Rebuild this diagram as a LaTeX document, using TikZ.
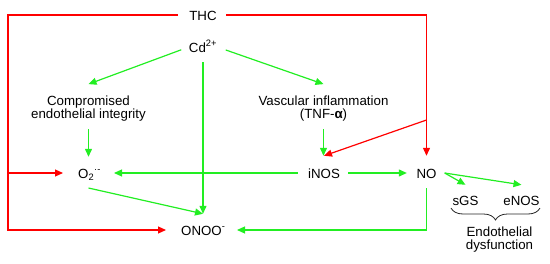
\documentclass[tikz,border=0pt]{standalone}
\usepackage{fontspec}
\setmainfont{Liberation Sans}
\usetikzlibrary{arrows.meta,calc,decorations.pathreplacing}
\definecolor{gr}{RGB}{34,238,34}
\definecolor{rd}{RGB}{255,0,0}
\tikzset{
  lbl/.style={inner sep=0pt, text height=10pt, text depth=0pt, font=\fontsize{13.3}{13}\selectfont},
  mlbl/.style={inner sep=0pt, align=center, font=\fontsize{13.3}{13}\selectfont},
  tip/.style={-{Triangle[length=8pt,width=7pt]}},
  garr/.style={draw=gr, line width=1.2pt, tip},
  rarr/.style={draw=rd, line width=1.2pt, tip},
  bracestyle/.style={decorate, decoration={brace, amplitude=12pt}, line width=0.8pt, draw=black!85}
}
\begin{document}
\begin{tikzpicture}[x=1pt,y=-1pt]
\useasboundingbox (0,0) rectangle (550,263);
% nodes
\node[lbl] (thc) at (203,15) {THC};
\node[lbl] (cd) at (203,47) {Cd\textsuperscript{2+}};
\node[mlbl] (comp) at (88.5,109) {Compromised\\endothelial integrity};
\node[mlbl] (vasc) at (323.5,109) {Vascular inflammation\\(TNF-{\bfseries α})};
\node[lbl, anchor=west] (o2) at (78,173) {O\textsubscript{2}\textsuperscript{·-}};
\node[lbl] (inos) at (324,173) {iNOS};
\node[lbl] (no) at (426.5,173) {NO};
\node[lbl, anchor=west] (onoo) at (181,230) {ONOO\textsuperscript{-}};
\node[lbl] (sgs) at (465.5,200) {sGS};
\node[lbl] (enos) at (521.5,200) {eNOS};
\node[mlbl] (endo) at (499.5,239.5) {Endothelial\\dysfunction};
% helper coordinates
\coordinate (tl) at (8,15);
\coordinate (bl) at (8,230);
\coordinate (ml) at (8,173);
\coordinate (rj) at (426.5,120);
\coordinate (bra) at (540,208);
\coordinate (brb) at (451,208);
% red connectors
\draw[rarr, shorten <=11pt, shorten >=15pt] (thc.west) -- (tl) -- (bl) -- (onoo.west);
\draw[rarr, shorten >=15pt] (ml) -- (ml -| o2.west);
\draw[rarr, shorten <=9.5pt, shorten >=12pt] (thc.east) -| (no.north);
\draw[rarr] (rj) -- ($(inos.north)+(0,-12)$);
% green connectors
\draw[garr, shorten <=8pt] (cd.west) -- ($(comp.north)+(0,-12)$);
\draw[garr, shorten <=9pt] (cd.east) -- ($(vasc.north)+(0,-12)$);
\draw[garr, shorten <=10pt] (cd.south) -- ($(cd.south |- onoo.north)+(0,-11)$);
\draw[garr, shorten <=7pt, shorten >=11pt] (comp.south) -- (comp.south |- o2.north);
\draw[garr, shorten <=7pt, shorten >=12pt] (vasc.south) -- (vasc.south |- inos.north);
\draw[garr, shorten <=10pt] (inos.west) -- ($(o2.west)+(36,0)$);
\draw[garr, shorten <=8pt, shorten >=9.5pt] (inos.east) -- (no.west);
\draw[garr] ($(o2.west)+(10.5,15)$) -- ($(cd.south |- onoo.north)+(0,-11)$);
\draw[garr, shorten <=10pt] (no.south) |- ($(onoo.west)+(56,0)$);
\draw[garr] ($(no.east)+(8,0)$) -- ($(sgs.north)+(0,-10)$);
\draw[garr] ($(no.east)+(8,0)$) -- ($(enos.north)+(0,-10)$);
% brace
\draw[bracestyle] (bra) -- (brb);
\end{tikzpicture}
\end{document}
